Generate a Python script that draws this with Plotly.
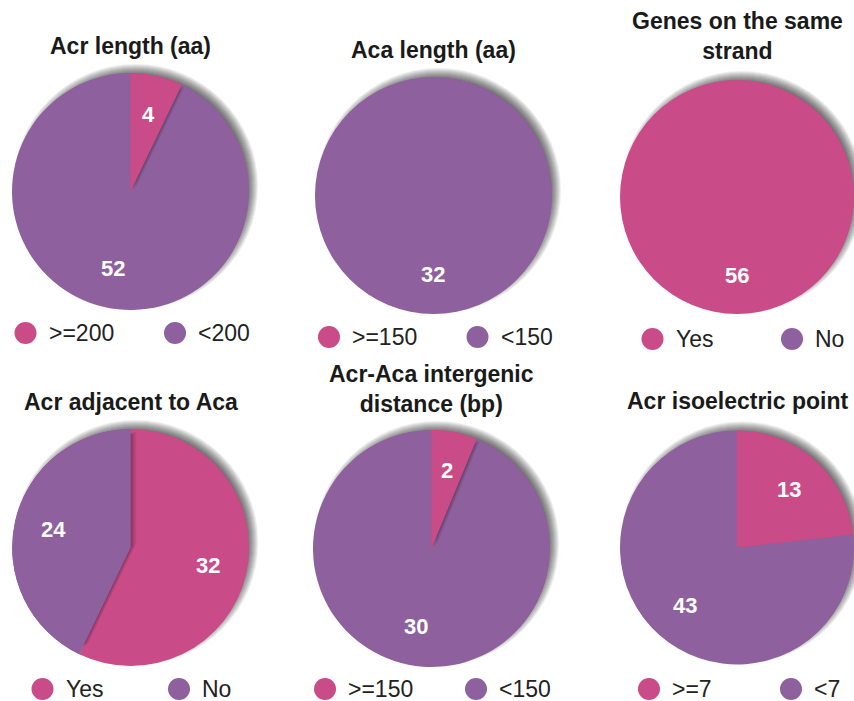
import math
import plotly.graph_objects as go

W, H = 854, 701

# ---------------- data ----------------
titles = ["Acr length (aa)", "Aca length (aa)", "Genes on the same<br>strand",
          "Acr adjacent to Aca", "Acr-Aca intergenic<br>distance (bp)", "Acr isoelectric point"]
cat_a = [">=200", ">=150", "Yes", "Yes", ">=150", ">=7"]
cat_b = ["<200", "<150", "No", "No", "<150", "<7"]
values_a = [4, 0, 56, 32, 2, 13]
values_b = [52, 32, 0, 24, 30, 43]

PINK = "#C94B87"
PURPLE = "#8E609E"

# ---------------- layout geometry (pixels) ----------------
pie_cx = [130.5, 433.5, 737, 130.7, 431.5, 737]
pie_cy = [191.5, 195.5, 197, 547.5, 548.5, 547.5]
pie_r = [118.5, 118.5, 117, 118.5, 118.5, 117]
title_y = [46, 49.5, 36.5, 402, 388.5, 401]
legend_y = [333, 337, 339, 689, 689, 689]
legend_dot_x = [(25.5, 175), (329, 477.5), (652.5, 792), (42.5, 179), (325, 476), (649, 791)]

FONT = "Liberation Sans, Arial, Helvetica, sans-serif"


def px(x):
    return x / W


def py(y):
    return 1 - y / H


def dom(cx, cy, r):
    return dict(x=[max(0, px(cx - r)), min(1, px(cx + r))],
                y=[max(0, py(cy + r)), min(1, py(cy - r))])


def esc(s):
    return s.replace("&", "&amp;").replace("<", "&lt;").replace(">", "&gt;")


fig = go.Figure()
shapes = []
annotations = []

base_traces = []
shadow_traces = []
top_traces = []

for i in range(6):
    cx, cy, r = pie_cx[i], pie_cy[i], pie_r[i]
    vals = [values_a[i], values_b[i]]
    labels = [cat_a[i], cat_b[i]]
    common = dict(labels=labels, values=vals, sort=False, direction="clockwise",
                  rotation=0, textinfo="none", hoverinfo="skip", showlegend=False)

    # outer soft drop shadow (offset up-right)
    for k in range(-7, 5):
        R = r + k
        ox, oy = cx + 5, cy - 5
        shapes.append(dict(type="circle", xref="paper", yref="paper",
                           x0=px(ox - R), x1=px(ox + R), y0=py(oy + R), y1=py(oy - R),
                           fillcolor="rgba(0,0,0,0.065)", line=dict(width=0), layer="below"))

    base_traces.append(go.Pie(domain=dom(cx, cy, r),
                              marker=dict(colors=[PINK, PURPLE], line=dict(width=0)),
                              **common))

    # internal slice shadow: smaller non-zero slice sits on top
    nz = [j for j in range(2) if vals[j] > 0]
    if len(nz) == 2:
        top = 0 if vals[0] <= vals[1] else 1
        for (ox, oy, a) in [(1.0, -1.0, 0.10), (2.5, -2.0, 0.09), (4.0, -3.0, 0.08), (5.5, -4.0, 0.06)]:
            cols = ["rgba(0,0,0,0)", "rgba(0,0,0,0)"]
            cols[top] = "rgba(0,0,0,%.3f)" % a
            shadow_traces.append(go.Pie(domain=dom(cx + ox, cy + oy, r - 7),
                                        marker=dict(colors=cols, line=dict(width=0)),
                                        **common))
        cols = ["rgba(0,0,0,0)", "rgba(0,0,0,0)"]
        cols[top] = [PINK, PURPLE][top]
        top_traces.append(go.Pie(domain=dom(cx, cy, r),
                                 marker=dict(colors=cols, line=dict(width=0)),
                                 **common))

    # slice value labels at mid-angle
    total = sum(vals)
    cum = 0
    for v in vals:
        if v > 0:
            mid = (cum + v / 2) / total * 2 * math.pi
            lx = cx + 0.67 * r * math.sin(mid)
            ly = cy - 0.67 * r * math.cos(mid)
            annotations.append(dict(x=px(lx), y=py(ly), xref="paper", yref="paper",
                                    text="<b>%d</b>" % v, showarrow=False,
                                    xanchor="center", yanchor="middle",
                                    font=dict(family=FONT, size=22, color="white")))
        cum += v

    # title
    annotations.append(dict(x=px(cx), y=py(title_y[i]), xref="paper", yref="paper",
                            text="<b>%s</b>" % titles[i], showarrow=False,
                            xanchor="center", yanchor="middle",
                            font=dict(family=FONT, size=23, color="#1a1a1a")))

    # custom legend
    ly = legend_y[i]
    for j, col in enumerate([PINK, PURPLE]):
        dx = legend_dot_x[i][j]
        rr = 11
        shapes.append(dict(type="circle", xref="paper", yref="paper",
                           x0=px(dx - rr), x1=px(dx + rr), y0=py(ly + rr), y1=py(ly - rr),
                           fillcolor=col, line=dict(width=0), layer="above"))
        annotations.append(dict(x=px(dx + 22), y=py(ly), xref="paper", yref="paper",
                                text=esc(labels[j]), showarrow=False,
                                xanchor="left", yanchor="middle", borderpad=0,
                                font=dict(family=FONT, size=23, color="#222222")))

for t in base_traces + shadow_traces + top_traces:
    fig.add_trace(t)

fig.update_layout(width=W, height=H, margin=dict(l=0, r=0, t=0, b=0),
                  paper_bgcolor="white", plot_bgcolor="white",
                  shapes=shapes, annotations=annotations, showlegend=False)

fig.write_html("out.html", config={"displayModeBar": False})
